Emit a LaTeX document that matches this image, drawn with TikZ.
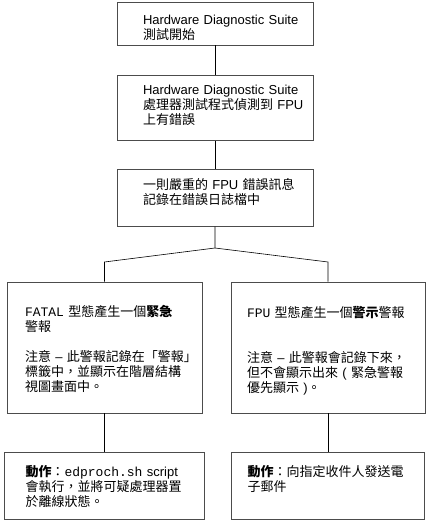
\documentclass[tikz,border=0pt]{standalone}
\usepackage{fontspec}
\setmainfont{Liberation Sans}
\setmonofont{Liberation Mono}
\newfontfamily\zhfont{Noto Sans CJK TC}
\newcommand{\zh}[1]{{\zhfont #1}}
\usetikzlibrary{positioning}

\begin{document}
\begin{tikzpicture}[
  x=1pt,y=-1pt,
  node distance=29pt,
  box/.style={draw=black!70,line width=0.6pt,align=left,inner xsep=0pt,
    font=\fontsize{13}{15}\selectfont,text width=#1},
  pad/.style={execute at begin node={\leftskip=#1\relax}},
  lift/.style={execute at end node={\endgraf\kern#1\relax}},
  conn/.style={line width=0.6pt}
]
\useasboundingbox (0,0) rectangle (433,521);
\node[box=196pt,pad=26pt,lift=-8pt,minimum height=43pt] (start) at (215,23.5)
  {Hardware Diagnostic Suite\\ \zh{測試開始}};
\node[box=196pt,pad=26pt,lift=6pt,minimum height=65pt,below=30pt of start] (detect)
  {Hardware Diagnostic Suite\\ \zh{處理器測試程式偵測到} FPU\\ \zh{上有錯誤}};
\node[box=196pt,pad=26pt,lift=12pt,minimum height=57pt,below=28pt of detect] (logged)
  {\zh{一則嚴重的} FPU \zh{錯誤訊息}\\ \zh{記錄在錯誤日誌檔中}};
\node[box=195pt,pad=18pt,lift=-2pt,minimum height=131pt] (fatal) at (104.5,347.5)
  {\texttt{FATAL} \zh{型態產生一個\textbf{緊急}}\\ \zh{警報}\\[15pt]
   \zh{注意} – \zh{此警報記錄在「警報」}\\ \zh{標籤中，並顯示在階層結構}\\ \zh{視圖畫面中。}};
\node[box=194pt,pad=16pt,lift=-6pt,minimum height=131pt] (warn) at (328,347.5)
  {\texttt{FPU} \zh{型態產生一個\textbf{警示}警報}\\[30pt]
   \zh{注意} – \zh{此警報會記錄下來，}\\ \zh{但不會顯示出來} ( \zh{緊急警報}\\ \zh{優先顯示} )\zh{。}};
\node[box=200pt,pad=21pt,minimum height=67pt,below=39pt of fatal] (fatalact)
  {\zh{\textbf{動作}：}\texttt{edproch.sh} script\\ \zh{會執行，並將可疑處理器置}\\ \zh{於離線狀態。}};
\node[box=193pt,pad=16pt,lift=15pt,minimum height=67pt,below=39pt of warn] (warnact)
  {\zh{\textbf{動作}：向指定收件人發送電}\\ \zh{子郵件}};
\coordinate (fork) at (logged.south |- 0,248);
\coordinate (fatalin) at (fatal.north |- 0,262);
\coordinate (warnin) at (warn.north |- 0,262);
\draw[conn] (start) -- (detect);
\draw[conn] (detect) -- (logged);
\draw[conn] (logged) -- (fork) -- (fatalin) -- (fatal);
\draw[conn] (fork) -- (warnin) -- (warn);
\draw[conn] (fatal) -- (fatalact);
\draw[conn] (warn) -- (warnact);
\end{tikzpicture}
\end{document}
